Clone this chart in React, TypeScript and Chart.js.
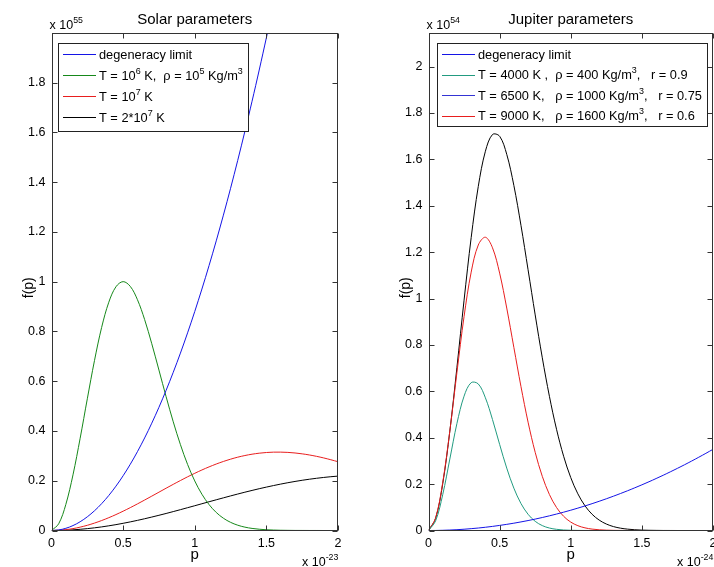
import React, { useEffect, useRef } from "react";
import { Chart, registerables } from "chart.js";

Chart.register(...registerables);

// ---------- data ----------
const P = [
  0, 0.05, 0.1, 0.15, 0.2, 0.25, 0.3, 0.35, 0.4, 0.45, 0.5, 0.55, 0.6, 0.65, 0.7, 0.75, 0.8, 0.85, 0.9, 0.95,
  1.0, 1.05, 1.1, 1.15, 1.2, 1.25, 1.3, 1.35, 1.4, 1.45, 1.5, 1.55, 1.6, 1.65, 1.7, 1.75, 1.8, 1.85, 1.9, 1.95, 2.0,
];

// Solar (p in units of 1e-23, f in units of 1e55)
const SOLAR_DEGEN = [
  0, 0.0022, 0.0088, 0.0198, 0.0352, 0.055, 0.0792, 0.1078, 0.1408, 0.1782, 0.22, 0.2662, 0.3168, 0.3718, 0.4312,
  0.495, 0.5632, 0.6358, 0.7128, 0.7942, 0.88, 0.9702, 1.0648, 1.1638, 1.2672, 1.375, 1.4872, 1.6038, 1.7248, 1.8502,
  1.98, 2.1142, 2.2528,
];
const SOLAR_T6 = [
  0, 0.0269, 0.1045, 0.2236, 0.3706, 0.5292, 0.6826, 0.816, 0.9173, 0.9794, 1.0, 0.9808, 0.9274, 0.8477, 0.7505,
  0.6446, 0.5379, 0.4366, 0.345, 0.2654, 0.1991, 0.1457, 0.104, 0.0725, 0.0493, 0.0328, 0.0213, 0.0135, 0.0084,
  0.0051, 0.003, 0.0018, 0.001, 0.0006, 0.0003, 0.0002, 0.0001, 0.0001, 0, 0, 0,
];
const SOLAR_T7 = [
  0, 0.0009, 0.0034, 0.0076, 0.0135, 0.0209, 0.0298, 0.04, 0.0515, 0.064, 0.0776, 0.0919, 0.1069, 0.1224, 0.1381,
  0.154, 0.1699, 0.1855, 0.2008, 0.2157, 0.2298, 0.2432, 0.2556, 0.2671, 0.2774, 0.2866, 0.2946, 0.3012, 0.3066,
  0.3106, 0.3134, 0.3148, 0.3149, 0.3138, 0.3115, 0.308, 0.3035, 0.298, 0.2916, 0.2843, 0.2764,
];
const SOLAR_T2E7 = [
  0, 0.0003, 0.0012, 0.0027, 0.0048, 0.0075, 0.0107, 0.0145, 0.0188, 0.0236, 0.0289, 0.0346, 0.0407, 0.0472, 0.054,
  0.0611, 0.0684, 0.076, 0.0837, 0.0916, 0.0995, 0.1075, 0.1155, 0.1234, 0.1312, 0.139, 0.1465, 0.1539, 0.161,
  0.1679, 0.1744, 0.1806, 0.1865, 0.192, 0.1971, 0.2018, 0.206, 0.2098, 0.2132, 0.2161, 0.2185,
];

// Jupiter (p in units of 1e-24, f in units of 1e54)
const JUP_DEGEN = [
  0, 0.0002, 0.0009, 0.002, 0.0035, 0.0055, 0.0079, 0.0107, 0.014, 0.0177, 0.0219, 0.0265, 0.0315, 0.037, 0.0429,
  0.0492, 0.056, 0.0632, 0.0709, 0.079, 0.0875, 0.0965, 0.1059, 0.1157, 0.126, 0.1367, 0.1479, 0.1595, 0.1715,
  0.184, 0.1969, 0.2102, 0.224, 0.2382, 0.2529, 0.268, 0.2835, 0.2995, 0.3159, 0.3327, 0.35,
];
const JUP_TEAL = [
  0, 0.0416, 0.1547, 0.3081, 0.4617, 0.5792, 0.6375, 0.6318, 0.5721, 0.4782, 0.3712, 0.269, 0.1826, 0.1164, 0.0699,
  0.0395, 0.0211, 0.0106, 0.0051, 0.0022, 0.001, 0.0004, 0.0002, 0.0001, 0, 0, 0, 0, 0, 0, 0, 0, 0, 0, 0, 0, 0, 0,
  0, 0, 0,
];
const JUP_RED = [
  0, 0.0542, 0.2067, 0.4292, 0.6821, 0.9227, 1.1139, 1.231, 1.2644, 1.2188, 1.1097, 0.959, 0.7896, 0.6208, 0.4671,
  0.337, 0.2333, 0.1552, 0.0993, 0.0612, 0.0363, 0.0207, 0.0114, 0.006, 0.0031, 0.0015, 0.0007, 0.0003, 0.0001,
  0.0001, 0, 0, 0, 0, 0, 0, 0, 0, 0, 0, 0,
];
const JUP_BLACK = [
  0, 0.0521, 0.2016, 0.4285, 0.7038, 0.9932, 1.2628, 1.4836, 1.6352, 1.7074, 1.6999, 1.6219, 1.4879, 1.3158,
  1.1242, 0.9295, 0.7446, 0.5786, 0.4366, 0.32, 0.2281, 0.1581, 0.1066, 0.07, 0.0448, 0.0279, 0.0169, 0.01, 0.0058,
  0.0033, 0.0017, 0.0009, 0.0005, 0.0002, 0.0001, 0, 0, 0, 0, 0, 0,
];

const SOLAR_LEGEND = [
  "degeneracy limit",
  "T = 10^{6} K,  \u03c1 = 10^{5} Kg/m^{3}",
  "T = 10^{7} K",
  "T = 2*10^{7} K",
];
const JUP_LEGEND = [
  "degeneracy limit",
  "T = 4000 K ,  \u03c1 = 400 Kg/m^{3},   r = 0.9",
  "T = 6500 K,   \u03c1 = 1000 Kg/m^{3},   r = 0.75",
  "T = 9000 K,   \u03c1 = 1600 Kg/m^{3},   r = 0.6",
];

const BLUE = "#1414e6";
const GREEN = "#16881a";
const RED = "#e81e1e";
const BLACK = "#000000";
const TEAL = "#229b80";

const SOLAR_LEGEND_COLORS = [BLUE, GREEN, RED, BLACK];
const JUP_LEGEND_COLORS = [BLUE, TEAL, "#3434d4", RED];

const FONT = '"Liberation Sans", Arial, Helvetica, sans-serif';
const LEGEND_SIZE = 12.8;

// ---------- rich text helpers ----------
type Part = { t: string; sup: boolean };
function parseRich(s: string): Part[] {
  const parts: Part[] = [];
  const re = /\^\{([^}]*)\}/g;
  let last = 0;
  let m: RegExpExecArray | null;
  while ((m = re.exec(s))) {
    if (m.index > last) parts.push({ t: s.slice(last, m.index), sup: false });
    parts.push({ t: m[1], sup: true });
    last = re.lastIndex;
  }
  if (last < s.length) parts.push({ t: s.slice(last), sup: false });
  return parts;
}
function richWidth(ctx: CanvasRenderingContext2D, s: string, size: number) {
  let w = 0;
  for (const p of parseRich(s)) {
    ctx.font = `${p.sup ? size * 0.7 : size}px ${FONT}`;
    w += ctx.measureText(p.t).width;
  }
  return w;
}
function drawRich(ctx: CanvasRenderingContext2D, s: string, x: number, y: number, size: number, align = "left") {
  const w = richWidth(ctx, s, size);
  let cx = align === "right" ? x - w : align === "center" ? x - w / 2 : x;
  ctx.textAlign = "left";
  ctx.textBaseline = "alphabetic";
  ctx.fillStyle = "#000";
  for (const p of parseRich(s)) {
    const fs = p.sup ? size * 0.7 : size;
    ctx.font = `${fs}px ${FONT}`;
    ctx.fillText(p.t, cx, p.sup ? y - size * 0.45 : y);
    cx += ctx.measureText(p.t).width;
  }
}

type Decor = {
  title: string;
  yExp: string;
  xExp: string;
  legend: string[];
  legendColors: string[];
  legendDx: number;
  rowH: number;
  padTop: number;
  padBottom: number;
};

function makeDecor(d: Decor) {
  return {
    id: "matlabDecor",
    afterDatasetsDraw(chart: any) {
      const ctx: CanvasRenderingContext2D = chart.ctx;
      const a = chart.chartArea;
      const xs = chart.scales.x;
      const ys = chart.scales.y;
      const L = Math.round(a.left) + 0.5;
      const R = Math.round(a.right) - 0.5;
      const T = Math.round(a.top) + 0.5;
      const B = Math.round(a.bottom) - 0.5;
      ctx.save();
      // axes box
      ctx.strokeStyle = "#333";
      ctx.lineWidth = 1;
      ctx.strokeRect(L, T, R - L, B - T);
      // inward ticks on all four sides
      const tl = 5;
      ctx.beginPath();
      for (const t of xs.ticks) {
        const px = Math.round(xs.getPixelForValue(t.value)) + 0.5;
        ctx.moveTo(px, B);
        ctx.lineTo(px, B - tl);
        ctx.moveTo(px, T);
        ctx.lineTo(px, T + tl);
      }
      for (const t of ys.ticks) {
        const py = Math.round(ys.getPixelForValue(t.value)) + 0.5;
        ctx.moveTo(L, py);
        ctx.lineTo(L + tl, py);
        ctx.moveTo(R, py);
        ctx.lineTo(R - tl, py);
      }
      ctx.stroke();

      // legend
      const size = LEGEND_SIZE;
      const textW = Math.max(...d.legend.map((l) => richWidth(ctx, l, size)));
      const x0 = Math.round(a.left) + d.legendDx;
      const y0 = Math.round(a.top) + 10;
      const textX = 41;
      const w = Math.round(textX + textW + 5);
      const h = Math.round(d.padTop + d.rowH * d.legend.length + d.padBottom);
      ctx.fillStyle = "#fff";
      ctx.fillRect(x0, y0, w, h);
      ctx.strokeStyle = "#222";
      ctx.strokeRect(x0 + 0.5, y0 + 0.5, w, h);
      d.legend.forEach((lab, i) => {
        const cy = y0 + d.padTop + d.rowH * (i + 0.5);
        ctx.fillStyle = d.legendColors[i];
        ctx.fillRect(x0 + 5, Math.round(cy), 33, 1);
        drawRich(ctx, lab, x0 + textX, cy + size * 0.36, size);
      });

      // title
      ctx.fillStyle = "#000";
      ctx.font = `15px ${FONT}`;
      ctx.textAlign = "center";
      ctx.textBaseline = "alphabetic";
      ctx.fillText(d.title, (a.left + a.right) / 2, a.top - 9);
      // exponent labels
      drawRich(ctx, d.yExp, a.left - 2, a.top - 4, 12.5, "left");
      drawRich(ctx, d.xExp, a.right - 36, chart.height - 1, 12.5, "left");
      // axis titles
      ctx.fillStyle = "#000";
      ctx.font = `15px ${FONT}`;
      ctx.textAlign = "center";
      ctx.fillText("p", (a.left + a.right) / 2, a.bottom + 28);
      ctx.save();
      ctx.translate(a.left - 22, (a.top + a.bottom) / 2 + 6);
      ctx.rotate(-Math.PI / 2);
      ctx.font = `14px ${FONT}`;
      ctx.textAlign = "center";
      ctx.textBaseline = "middle";
      ctx.fillText("f(p)", 0, 0);
      ctx.restore();
      ctx.restore();
    },
  };
}

const fmt = (v: any) => String(Math.round(Number(v) * 100) / 100);

function pts(arr: number[]) {
  return arr.map((y, i) => ({ x: P[i], y }));
}

type Props = {
  left: number;
  width: number;
  padRight: number;
  yMax: number;
  datasets: { label: string; data: number[]; color: string }[];
  decor: Decor;
};

function MatlabChart({ left, width, padRight, yMax, datasets, decor }: Props) {
  const ref = useRef<HTMLCanvasElement>(null);
  useEffect(() => {
    const tickFont = { family: FONT, size: 12.5 };
    const chart = new Chart(ref.current as HTMLCanvasElement, {
      type: "line",
      data: {
        datasets: datasets.map((ds) => ({
          label: ds.label,
          data: pts(ds.data),
          borderColor: ds.color,
          backgroundColor: ds.color,
          borderWidth: 1,
          pointRadius: 0,
          pointHoverRadius: 0,
          pointBorderWidth: 0,
          pointHitRadius: 0,
          fill: false,
          tension: 0.35,
        })),
      },
      options: {
        responsive: false,
        animation: false,
        devicePixelRatio: 1,
        events: [],
        elements: { point: { radius: 0, hoverRadius: 0, borderWidth: 0, hitRadius: 0 } },
        layout: { autoPadding: false, padding: { top: 33, right: padRight, left: 0, bottom: 0 } },
        plugins: { legend: { display: false }, tooltip: { enabled: false }, title: { display: false } },
        scales: {
          x: {
            type: "linear",
            min: 0,
            max: 2,
            grid: { display: false, drawTicks: false },
            border: { display: false },
            ticks: { stepSize: 0.5, padding: 6, color: "#000", font: tickFont, maxRotation: 0, callback: fmt },
            afterFit: (s: any) => {
              s.height = 36.5;
            },
          },
          y: {
            type: "linear",
            min: 0,
            max: yMax,
            grid: { display: false, drawTicks: false },
            border: { display: false },
            ticks: { stepSize: 0.2, includeBounds: false, padding: 6, color: "#000", font: tickFont, callback: fmt },
            afterFit: (s: any) => {
              s.width = 51.5;
            },
          },
        },
      } as any,
      plugins: [makeDecor(decor)],
    });
    return () => chart.destroy();
  }, []);
  return (
    <canvas
      ref={ref}
      width={width}
      height={567}
      style={{ position: "absolute", left, top: 0, width, height: 567 }}
    />
  );
}

export default function App() {
  return (
    <div style={{ position: "fixed", left: 0, top: 0, width: 714, height: 567, background: "#fff", overflow: "hidden" }}>
      <MatlabChart
        left={0}
        width={357}
        padRight={19}
        yMax={1.999}
        datasets={[
          { label: SOLAR_LEGEND[0], data: SOLAR_DEGEN, color: BLUE },
          { label: SOLAR_LEGEND[1], data: SOLAR_T6, color: GREEN },
          { label: SOLAR_LEGEND[2], data: SOLAR_T7, color: RED },
          { label: SOLAR_LEGEND[3], data: SOLAR_T2E7, color: BLACK },
        ]}
        decor={{
          title: "Solar parameters",
          yExp: "x 10^{55}",
          xExp: "x 10^{-23}",
          legend: SOLAR_LEGEND,
          legendColors: SOLAR_LEGEND_COLORS,
          legendDx: 6,
          rowH: 21,
          padTop: 0.5,
          padBottom: 3.5,
        }}
      />
      <MatlabChart
        left={377}
        width={349}
        padRight={13}
        yMax={2.145}
        datasets={[
          { label: JUP_LEGEND[0], data: JUP_DEGEN, color: BLUE },
          { label: JUP_LEGEND[1], data: JUP_TEAL, color: TEAL },
          { label: JUP_LEGEND[3], data: JUP_RED, color: RED },
          { label: "T = 9000 K (black curve)", data: JUP_BLACK, color: BLACK },
        ]}
        decor={{
          title: "Jupiter parameters",
          yExp: "x 10^{54}",
          xExp: "x 10^{-24}",
          legend: JUP_LEGEND,
          legendColors: JUP_LEGEND_COLORS,
          legendDx: 8,
          rowH: 20.5,
          padTop: 0.75,
          padBottom: 0,
        }}
      />
    </div>
  );
}
